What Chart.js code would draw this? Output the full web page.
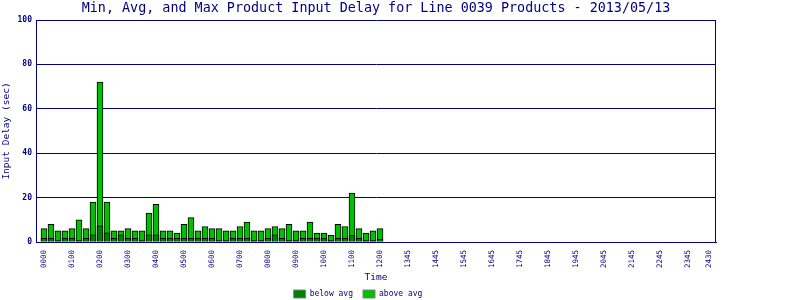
<!DOCTYPE html>
<html>
<head>
<meta charset="utf-8">
<script src="https://cdn.jsdelivr.net/npm/chart.js@4"></script>
<style>
    html, body { margin: 0; padding: 0; background: #ffffff; }
</style>
</head>
<body>
<canvas id="delayChart" width="800" height="300"></canvas>
<script>
const chartTitle = 'Min, Avg, and Max Product Input Delay for Line 0039 Products - 2013/05/13';

// one value per 15 minute slot, 0000 .. 1200 (nothing logged after that)
const maxDelay = [
    6, 8, 5, 5, 6, 10, 6, 18,
    72, 18, 5, 5, 6, 5, 5, 13,
    17, 5, 5, 4, 8, 11, 5, 7,
    6, 6, 5, 5, 7, 9, 5, 5,
    6, 7, 6, 8, 5, 5, 9, 4,
    4, 3, 8, 7, 22, 6, 4, 5,
    6
];
const avgDelay = [
    1.7, 1.7, 0.8, 1.7, 1.7, 0.8, 1.7, 3.2,
    7.3, 4.1, 1.7, 3.2, 1.7, 1.7, 0.8, 3.2,
    3.2, 1.7, 1.7, 1.7, 1.7, 1.7, 1.7, 1.7,
    1.7, 0.8, 0.8, 1.7, 1.7, 1.7, 0.8, 0.8,
    1.7, 3.2, 1.7, 0.8, 0.8, 1.7, 1.7, 1.7,
    1.7, 0.8, 1.7, 1.7, 3, 1.7, 0.8, 0.8,
    1.2
];

// x tick positions (slot index) and their labels
const tickSlots = [0, 4, 8, 12, 16, 20, 24, 28, 32, 36, 40, 44, 48,
    52, 56, 60, 64, 68, 72, 76, 80, 84, 88, 92, 95];
const tickLabels = ['0000', '0100', '0200', '0300', '0400', '0500', '0600', '0700',
    '0800', '0900', '1000', '1100', '1200', '1345', '1445', '1545', '1645', '1745',
    '1845', '1945', '2045', '2145', '2245', '2345', '2430'];

const navy = '#000080';
const mono = '"DejaVu Sans Mono", monospace';

const frameAndTitle = {
    id: 'frameAndTitle',
    afterDraw(chart) {
        const {ctx, chartArea} = chart;
        ctx.save();
        ctx.strokeStyle = navy;
        ctx.lineWidth = 1;
        ctx.beginPath();
        ctx.moveTo(Math.round(chartArea.right) - 0.5, chartArea.top);
        ctx.lineTo(Math.round(chartArea.right) - 0.5, chartArea.bottom);
        ctx.stroke();
        ctx.fillStyle = navy;
        ctx.font = '13.4px ' + mono;
        ctx.textAlign = 'center';
        ctx.textBaseline = 'middle';
        ctx.fillText(chartTitle, (chartArea.left + chartArea.right) / 2, 9);
        ctx.restore();
    }
};

function toPoints(values) {
    return values.map((v, i) => ({x: i, y: v}));
}

new Chart(document.getElementById('delayChart'), {
    type: 'bar',
    data: {
        datasets: [{
            label: 'below avg',
            data: toPoints(avgDelay),
            backgroundColor: '#008000',
            borderColor: '#000000',
            borderWidth: 1,
            barThickness: 6,
            grouped: false,
        }, {
            label: 'above avg',
            data: toPoints(maxDelay),
            backgroundColor: '#00c000',
            borderColor: '#000000',
            borderWidth: 1,
            barThickness: 6,
            grouped: false,
        }]
    },
    options: {
        responsive: false,
        animation: false,
        layout: {
            padding: {top: 20, right: 84, left: 0, bottom: -8}
        },
        plugins: {
            title: {display: false},
            tooltip: {enabled: false},
            legend: {
                position: 'bottom',
                labels: {
                    boxWidth: 12,
                    boxHeight: 8,
                    padding: 10,
                    color: navy,
                    font: {family: mono, size: 8},
                    generateLabels(chart) {
                        return Chart.defaults.plugins.legend.labels.generateLabels(chart)
                            .map(item => Object.assign(item, {strokeStyle: '#808080', lineWidth: 1}));
                    }
                }
            }
        },
        scales: {
            x: {
                type: 'linear',
                offset: false,
                min: -1.14,
                max: 96,
                afterFit(scale) { scale.height = 38; },
                afterBuildTicks(scale) {
                    scale.ticks = tickSlots.map(v => ({value: v}));
                },
                grid: {display: false, drawTicks: false},
                border: {display: true, color: navy, width: 1},
                ticks: {
                    autoSkip: false,
                    minRotation: 90,
                    maxRotation: 90,
                    padding: 8,
                    color: navy,
                    font: {family: mono, size: 7.5},
                    callback: (value, index) => tickLabels[index],
                },
                title: {
                    display: true,
                    text: 'Time',
                    color: navy,
                    font: {family: mono, size: 9.5},
                    padding: {top: 0, bottom: -3},
                }
            },
            y: {
                min: 0,
                max: 100,
                afterFit(scale) { scale.width = 36; },
                grid: {color: navy, lineWidth: 1, drawTicks: false},
                border: {display: true, color: navy, width: 1},
                ticks: {
                    stepSize: 20,
                    padding: 4,
                    color: navy,
                    font: {family: mono, size: 8, weight: 'bold'},
                },
                title: {
                    display: true,
                    text: 'Input Delay (sec)',
                    color: navy,
                    font: {family: mono, size: 9.5},
                    padding: {top: 1, bottom: 0},
                }
            }
        }
    },
    plugins: [frameAndTitle]
});
</script>
</body>
</html>
